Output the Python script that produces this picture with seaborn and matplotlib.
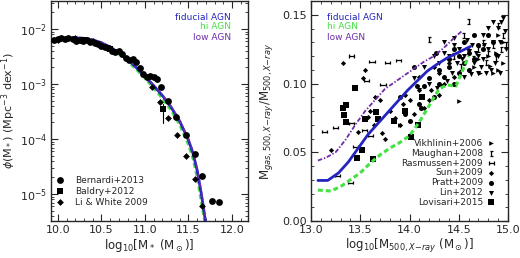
import numpy as np
import pandas as pd
import matplotlib
matplotlib.use("Agg")
import matplotlib.pyplot as plt
from matplotlib.path import Path
from matplotlib.ticker import MultipleLocator, LogLocator, NullFormatter
import seaborn as sns

# ---------------- Left panel data ----------------
smf_x = [9.92, 10.0, 10.1, 10.2, 10.3, 10.4, 10.5, 10.6, 10.7, 10.8, 10.9, 11.0,
         11.1, 11.2, 11.3, 11.4, 11.5, 11.55, 11.6, 11.65, 11.7]
smf_fid = [-2.21, -2.19, -2.17, -2.16, -2.17, -2.20, -2.25, -2.33, -2.43, -2.55, -2.70,
           -2.86, -3.03, -3.21, -3.42, -3.68, -4.02, -4.25, -4.57, -5.02, -5.55]
smf_hi = [-2.22, -2.20, -2.18, -2.17, -2.18, -2.21, -2.27, -2.35, -2.45, -2.58, -2.73,
          -2.89, -3.07, -3.26, -3.47, -3.74, -4.10, -4.34, -4.68, -5.15, -5.60]
smf_low = [-2.20, -2.18, -2.16, -2.15, -2.16, -2.19, -2.24, -2.32, -2.42, -2.54, -2.69,
           -2.85, -3.02, -3.20, -3.41, -3.66, -4.00, -4.22, -4.54, -4.98, -5.50]

bern_x = [9.96, 10.0, 10.04, 10.08, 10.12, 10.17, 10.21, 10.25, 10.29, 10.33, 10.37,
          10.42, 10.46, 10.5, 10.54, 10.58, 10.62, 10.66, 10.7, 10.74, 10.78, 10.82,
          10.86, 10.9, 10.94, 10.98, 11.02, 11.06, 11.1, 11.14, 11.18, 11.27, 11.36,
          11.47, 11.57, 11.66, 11.77, 11.85]
bern_y = [-2.19, -2.18, -2.16, -2.18, -2.16, -2.18, -2.21, -2.20, -2.21, -2.20, -2.23,
          -2.26, -2.27, -2.30, -2.32, -2.35, -2.39, -2.42, -2.40, -2.46, -2.52, -2.57,
          -2.54, -2.60, -2.70, -2.82, -2.87, -2.86, -2.88, -2.90, -3.06, -3.30, -3.60,
          -3.93, -4.27, -4.67, -5.12, -5.14]
bald_x = [10.3, 10.6, 11.21]
bald_y = [-2.20, -2.36, -3.46]
li_x = [10.0, 10.2, 10.4, 10.6, 10.8, 11.08, 11.17, 11.27, 11.37, 11.47, 11.57, 11.66]
li_y = [-2.19, -2.17, -2.21, -2.34, -2.55, -3.06, -3.32, -3.61, -3.93, -4.31, -4.73, -5.21]

# ---------------- Right panel data ----------------
fg_fid_x = [13.07, 13.17, 13.28, 13.38, 13.48, 13.58, 13.68, 13.78, 13.88, 13.98, 14.08,
            14.18, 14.28, 14.38, 14.48, 14.62]
fg_fid = [0.0295, 0.0295, 0.0350, 0.0430, 0.0530, 0.0630, 0.0710, 0.0790, 0.0870,
          0.0950, 0.1020, 0.1090, 0.1140, 0.1185, 0.1220, 0.1270]
fg_hi_x = [13.07, 13.2, 13.3, 13.4, 13.5, 13.6, 13.7, 13.8, 13.9, 14.0, 14.1, 14.2, 14.3,
           14.38, 14.47, 14.53, 14.6]
fg_hi = [0.0225, 0.0218, 0.0250, 0.0300, 0.0350, 0.0420, 0.0480, 0.0530, 0.0570, 0.0620,
         0.0720, 0.0840, 0.0960, 0.0990, 0.0980, 0.1080, 0.1200]
fg_low_x = [13.07, 13.15, 13.25, 13.35, 13.45, 13.55, 13.65, 13.75, 13.85, 13.95, 14.05,
            14.15, 14.25, 14.35, 14.45, 14.53]
fg_low = [0.0440, 0.0460, 0.0500, 0.0590, 0.0700, 0.0800, 0.0880, 0.0960, 0.1010, 0.1060,
          0.1110, 0.1160, 0.1200, 0.1260, 0.1330, 0.1380]

vik_x = [14.5, 14.85, 14.9, 14.95, 14.7, 14.8, 14.88, 14.6, 14.72, 14.65, 14.95, 14.9,
         13.9, 14.82]
vik_y = [0.087, 0.108, 0.110, 0.115, 0.118, 0.120, 0.122, 0.125, 0.108, 0.112, 0.130,
         0.135, 0.070, 0.113]
mau_x = [14.6, 14.2, 14.8, 14.85, 14.9, 14.75, 14.7, 14.95, 14.55, 14.65, 14.78, 14.88,
         14.45, 14.52, 14.98, 14.93]
mau_y = [0.145, 0.132, 0.122, 0.128, 0.142, 0.130, 0.125, 0.135, 0.135, 0.118, 0.115,
         0.118, 0.120, 0.112, 0.128, 0.125]
ras_x = [13.14, 13.25, 13.27, 13.40, 13.41, 13.41, 13.45, 13.54, 13.56, 13.60, 13.62,
         13.73, 13.78, 13.89]
ras_y = [0.065, 0.068, 0.033, 0.028, 0.120, 0.071, 0.054, 0.066, 0.102, 0.062, 0.116,
         0.099, 0.115, 0.117]
sun_x = [13.20, 13.32, 13.53, 13.58, 13.64, 13.72, 13.75, 13.90, 13.93, 14.00, 14.10,
         14.20, 14.25, 14.30, 14.35, 13.80, 13.85, 14.05, 14.15, 13.95, 14.40, 14.10,
         13.55, 13.70, 13.60, 14.30, 14.45, 14.22, 13.48, 13.65]
sun_y = [0.052, 0.115, 0.104, 0.076, 0.070, 0.064, 0.060, 0.070, 0.085, 0.088, 0.095,
         0.088, 0.112, 0.108, 0.100, 0.080, 0.075, 0.078, 0.082, 0.092, 0.115, 0.105,
         0.110, 0.088, 0.080, 0.092, 0.105, 0.095, 0.065, 0.090]
pra_x = [14.05, 14.27, 14.30, 14.40, 14.45, 14.50, 14.60, 14.55, 14.20, 14.15, 14.35,
         14.65, 14.70, 14.75, 14.40, 14.60, 14.25, 14.10, 13.95, 14.00, 14.12, 14.50,
         14.30, 14.45, 14.55, 14.80, 14.85, 14.65, 13.90, 14.08]
pra_y = [0.112, 0.122, 0.110, 0.118, 0.125, 0.120, 0.122, 0.130, 0.104, 0.098, 0.105,
         0.118, 0.128, 0.125, 0.112, 0.110, 0.090, 0.085, 0.078, 0.073, 0.082, 0.108,
         0.100, 0.100, 0.115, 0.135, 0.130, 0.135, 0.090, 0.098]
lin_x = [14.15, 14.25, 14.30, 14.35, 14.40, 14.45, 14.50, 14.55, 14.60, 14.65, 14.70,
         14.75, 14.80, 14.85, 14.90, 14.95, 14.92, 14.88, 14.83, 14.78, 14.73, 14.68,
         14.63, 14.58, 14.53, 14.48, 14.43, 14.38, 14.33, 14.28, 14.20, 14.10, 14.05,
         14.93, 14.97, 14.90, 14.87, 14.80, 14.75, 14.70, 14.62, 14.55, 14.45, 14.35,
         14.98, 14.85, 14.92, 14.76]
lin_y = [0.112, 0.120, 0.115, 0.122, 0.120, 0.128, 0.125, 0.120, 0.124, 0.115, 0.120,
         0.118, 0.125, 0.130, 0.140, 0.148, 0.130, 0.120, 0.110, 0.108, 0.112, 0.122,
         0.128, 0.132, 0.118, 0.115, 0.108, 0.102, 0.098, 0.097, 0.100, 0.095, 0.104,
         0.145, 0.138, 0.120, 0.115, 0.140, 0.135, 0.108, 0.107, 0.105, 0.133, 0.130,
         0.125, 0.145, 0.108, 0.128]
lov_x = [13.32, 13.36, 13.33, 13.36, 13.45, 13.47, 13.52, 13.63, 13.66, 13.68, 13.84,
         13.95, 14.02, 14.09, 14.13, 13.55]
lov_y = [0.082, 0.084, 0.077, 0.072, 0.097, 0.046, 0.052, 0.045, 0.079, 0.074, 0.073,
         0.080, 0.061, 0.070, 0.090, 0.074]

# ---------------- style ----------------
sns.set_style("ticks")
plt.rcParams["font.family"] = ["DejaVu Sans"]
plt.rcParams["mathtext.fontset"] = "dejavusans"

C_FID = "#2424c0"
C_HI = "#44e044"
C_LOW = "#6c2ca8"

# custom markers
imark = Path([(-0.6, -1), (0.6, -1), (0, -1), (0, 1), (-0.6, 1), (0.6, 1)],
             [Path.MOVETO, Path.LINETO, Path.MOVETO, Path.LINETO, Path.MOVETO, Path.LINETO])
hmark = Path([(-1, -0.6), (-1, 0.6), (-1, 0), (1, 0), (1, -0.6), (1, 0.6)],
             [Path.MOVETO, Path.LINETO, Path.MOVETO, Path.LINETO, Path.MOVETO, Path.LINETO])

fig = plt.figure(figsize=(5.2, 2.58), dpi=100)
W, H = 520.0, 258.0
ax1 = fig.add_axes([51 / W, 1 - 221 / H, 197 / W, 220 / H])
ax2 = fig.add_axes([311 / W, 1 - 221 / H, 197 / W, 220 / H])

# ---------------- left panel ----------------
d_smf = pd.DataFrame({"x": smf_x, "fid": 10 ** np.array(smf_fid),
                      "hi": 10 ** np.array(smf_hi), "low": 10 ** np.array(smf_low)})
sns.lineplot(data=d_smf, x="x", y="hi", ax=ax1, color=C_HI, lw=2.2,
             linestyle=(0, (1.6, 1.0)), sort=False)
sns.lineplot(data=d_smf, x="x", y="fid", ax=ax1, color=C_FID, lw=2.0, sort=False)
sns.lineplot(data=d_smf, x="x", y="low", ax=ax1, color=C_LOW, lw=1.3,
             linestyle=(0, (2.5, 1, 0.8, 1)), sort=False)

sns.scatterplot(x=bald_x, y=10 ** np.array(bald_y), ax=ax1, marker="s", s=22,
                color="k", edgecolor="k", linewidth=0, zorder=5)
ax1.plot([bald_x[-1], bald_x[-1]], [10 ** (bald_y[-1] - 0.25), 10 ** (bald_y[-1] + 0.1)],
         color="k", lw=0.8, zorder=4)
sns.scatterplot(x=bern_x, y=10 ** np.array(bern_y), ax=ax1, marker="o", s=24,
                color="k", edgecolor="k", linewidth=0, zorder=5)
sns.scatterplot(x=li_x, y=10 ** np.array(li_y), ax=ax1, marker="D", s=12,
                color="k", edgecolor="k", linewidth=0, zorder=5)

ax1.set_yscale("log")
ax1.set_xlim(9.92, 12.184)
ax1.set_ylim(10 ** -5.49, 10 ** -1.49)
ax1.xaxis.set_minor_locator(MultipleLocator(0.1))
ax1.yaxis.set_major_locator(LogLocator(base=10, numticks=10))
ax1.yaxis.set_minor_locator(LogLocator(base=10, subs=np.arange(2, 10), numticks=20))
ax1.yaxis.set_minor_formatter(NullFormatter())
ax1.set_xticks([10.0, 10.5, 11.0, 11.5, 12.0])
ax1.set_xticklabels(["10.0", "10.5", "11.0", "11.5", "12.0"])
ax1.set_xlabel(r"log$_{10}$[M$_*$ (M$_\odot$)]", fontsize=8.5, labelpad=1)
ax1.set_ylabel(r"$\phi$(M$_*$) (Mpc$^{-3}$ dex$^{-1}$)", fontsize=8)
ax1.yaxis.set_label_coords(-0.17, 0.5)

for t, c, yy in [("fiducial AGN", C_FID, 0.927), ("hi AGN", C_HI, 0.882), ("low AGN", C_LOW, 0.836)]:
    ax1.text(0.914, yy, t, color=c, fontsize=6.5, ha="right", va="center", transform=ax1.transAxes)

for lab, mk, ms, yy in [("Bernardi+2013", "o", 24, 0.186), ("Baldry+2012", "s", 22, 0.136),
                        ("Li & White 2009", "D", 12, 0.086)]:
    ax1.scatter([0.046], [yy], marker=mk, s=ms, color="k", linewidths=0, transform=ax1.transAxes)
    ax1.text(0.122, yy, lab, fontsize=6.5, ha="left", va="center", transform=ax1.transAxes)

# ---------------- right panel ----------------
d_fid = pd.DataFrame({"x": fg_fid_x, "y": fg_fid})
d_hi = pd.DataFrame({"x": fg_hi_x, "y": fg_hi})
d_low = pd.DataFrame({"x": fg_low_x, "y": fg_low})

sns.scatterplot(x=lov_x, y=lov_y, ax=ax2, marker="s", s=14, color="k", linewidth=0, zorder=3)
sns.scatterplot(x=sun_x, y=sun_y, ax=ax2, marker="D", s=7, color="k", linewidth=0, zorder=3)
sns.scatterplot(x=pra_x, y=pra_y, ax=ax2, marker="o", s=13, color="k", linewidth=0, zorder=3)
sns.scatterplot(x=lin_x, y=lin_y, ax=ax2, marker="v", s=13, color="k", linewidth=0, zorder=3)
sns.scatterplot(x=vik_x, y=vik_y, ax=ax2, marker=">", s=11, color="k", linewidth=0, zorder=3)
ax2.scatter(mau_x, mau_y, marker=imark, s=14, facecolors="none", edgecolors="k", linewidths=0.9, zorder=3)
ax2.scatter(ras_x, ras_y, marker=hmark, s=14, facecolors="none", edgecolors="k", linewidths=0.9, zorder=3)

sns.lineplot(data=d_hi, x="x", y="y", ax=ax2, color=C_HI, lw=2.2,
             linestyle=(0, (1.6, 1.0)), sort=False, zorder=4)
sns.lineplot(data=d_fid, x="x", y="y", ax=ax2, color=C_FID, lw=2.0, sort=False, zorder=4)
sns.lineplot(data=d_low, x="x", y="y", ax=ax2, color=C_LOW, lw=1.3,
             linestyle=(0, (2.5, 1, 0.8, 1)), sort=False, zorder=4)

ax2.set_xlim(13.0, 15.0)
ax2.set_ylim(0.0, 0.16)
ax2.xaxis.set_minor_locator(MultipleLocator(0.1))
ax2.yaxis.set_minor_locator(MultipleLocator(0.01))
ax2.set_xticks([13.0, 13.5, 14.0, 14.5, 15.0])
ax2.set_xticklabels(["13.0", "13.5", "14.0", "14.5", "15.0"])
ax2.set_yticks([0.0, 0.05, 0.10, 0.15])
ax2.set_yticklabels(["0.00", "0.05", "0.10", "0.15"])
ax2.set_xlabel(r"log$_{10}$[M$_{500,X\mathrm{-}ray}$ (M$_\odot$)]", fontsize=8.5, labelpad=1)
ax2.set_ylabel(r"M$_{gas,500,X\mathrm{-}ray}$/M$_{500,X\mathrm{-}ray}$", fontsize=8.5)
ax2.yaxis.set_label_coords(-0.185, 0.5)

for t, c, yy in [("fiducial AGN", C_FID, 0.927), ("hi AGN", C_HI, 0.882), ("low AGN", C_LOW, 0.836)]:
    ax2.text(0.08, yy, t, color=c, fontsize=6.5, ha="left", va="center", transform=ax2.transAxes)

leg = [("Vikhlinin+2006", ">", 11, True), ("Maughan+2008", imark, 14, False),
       ("Rasmussen+2009", hmark, 14, False), ("Sun+2009", "D", 7, True),
       ("Pratt+2009", "o", 13, True), ("Lin+2012", "v", 13, True),
       ("Lovisari+2015", "s", 14, True)]
for i, (lab, mk, ms, filled) in enumerate(leg):
    yy = 0.353 - i * 0.0448
    if filled:
        ax2.scatter([0.915], [yy], marker=mk, s=ms, color="k", linewidths=0, transform=ax2.transAxes)
    else:
        ax2.scatter([0.915], [yy], marker=mk, s=ms, facecolors="none", edgecolors="k",
                    linewidths=0.9, transform=ax2.transAxes)
    ax2.text(0.874, yy, lab, fontsize=6.5, ha="right", va="center", transform=ax2.transAxes)

for ax in (ax1, ax2):
    ax.tick_params(which="both", direction="in", top=True, right=True, labelsize=8, pad=3)
    ax.tick_params(which="major", length=5, width=0.8)
    ax.tick_params(which="minor", length=2.5, width=0.6)
    for sp in ax.spines.values():
        sp.set_linewidth(1.0)
        sp.set_visible(True)
    ax.set_facecolor("white")

fig.savefig("out.png", dpi=100, facecolor="white")
